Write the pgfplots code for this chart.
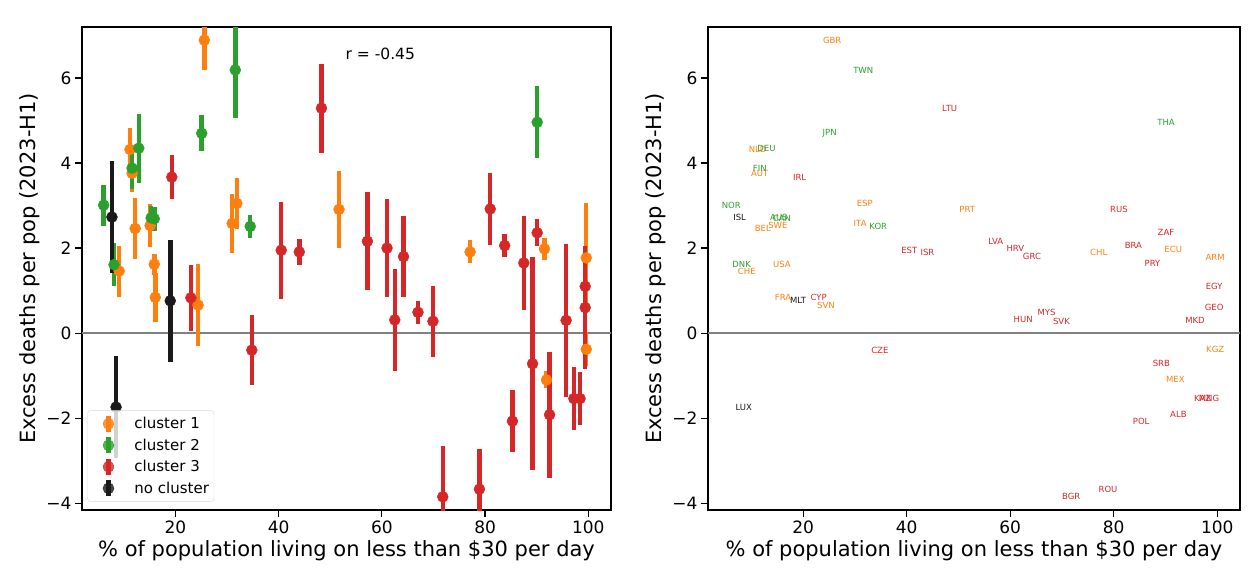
\documentclass[border=0pt]{standalone}
\usepackage{fontspec}
\setmainfont{DejaVu Sans}
\usepackage{pgfplots}
\usepackage{pgfplotstable}
\pgfplotsset{compat=1.18}
\definecolor{c1}{HTML}{FF7F0E}
\definecolor{c2}{HTML}{2CA02C}
\definecolor{c3}{HTML}{D62728}
\definecolor{c0}{HTML}{1A1A1A}

\pgfplotstableread{
x y e lab
25.6 6.89 0.70 GBR
11.2 4.32 0.50 NLD
11.6 3.76 0.45 AUT
12.2 2.46 0.72 BEL
15.1 2.53 0.50 SWE
31.9 3.05 0.60 ESP
31.0 2.58 0.70 ITA
9.1 1.46 0.60 CHE
15.9 1.62 0.25 USA
16.1 0.84 0.57 FRA
24.4 0.66 0.96 SVN
51.7 2.91 0.90 PRT
77.1 1.91 0.27 CHL
91.5 1.98 0.25 ECU
99.6 1.77 1.30 ARM
99.6 -0.38 0.40 KGZ
91.9 -1.10 0.20 MEX
}\cone

\pgfplotstableread{
x y e lab
31.6 6.19 1.13 TWN
25.1 4.70 0.42 JPN
12.9 4.35 0.81 DEU
11.6 3.88 0.50 FIN
6.1 3.01 0.48 NOR
15.3 2.71 0.28 AUS
15.9 2.69 0.28 CAN
34.5 2.51 0.28 KOR
8.1 1.61 0.50 DNK
90.1 4.96 0.85 THA
}\ctwo

\pgfplotstableread{
x y e lab
19.3 3.67 0.51 IRL
23.0 0.83 0.77 CYP
34.8 -0.40 0.82 CZE
48.3 5.29 1.05 LTU
40.5 1.95 1.14 EST
44.0 1.91 0.30 ISR
57.2 2.16 1.15 LVA
61.0 2.00 1.15 HRV
64.2 1.80 0.96 GRC
62.5 0.31 1.21 HUN
67.0 0.49 0.27 MYS
69.9 0.28 0.83 SVK
71.8 -3.85 1.20 BGR
78.9 -3.67 0.95 ROU
81.0 2.92 0.85 RUS
83.8 2.06 0.28 BRA
90.1 2.36 0.32 ZAF
87.5 1.65 1.10 PRY
99.4 1.10 0.95 EGY
99.4 0.60 1.45 GEO
95.7 0.30 1.80 MKD
89.2 -0.72 2.50 SRB
97.2 -1.54 0.74 KAZ
98.4 -1.54 0.62 MNG
92.5 -1.92 1.48 ALB
85.3 -2.07 0.73 POL
}\cthree

\pgfplotstableread{
x y e lab
7.7 2.73 1.32 ISL
19.0 0.76 1.43 MLT
8.5 -1.74 1.20 LUX
}\cnone

\pgfplotsset{
 myaxis/.style={
  scale only axis, width=#1, height=483pt,
  ymin=-4.16, ymax=7.2,
  xtick={20,40,60,80,100}, xticklabels={20,40,60,80,100},
  ytick={-4,-2,0,2,4,6}, yticklabels={−4,−2,0,2,4,6},
  tick align=outside, xtick pos=bottom, ytick pos=left,
  major tick length=7pt,
  tick style={black, line width=1.2pt},
  axis line style={line width=1.3pt, black},
  tick label style={font=\fontsize{17}{20}\selectfont},
  label style={font=\fontsize{21}{25}\selectfont},
  xlabel={\% of population living on less than \$30 per day},
  ylabel={Excess deaths per pop (2023-H1)},
 },
 errplot/.style={only marks, mark=*, mark size=5.5pt, color=#1,
   mark options={draw=#1, fill=#1},
   error bars/y dir=both, error bars/y explicit, error bars/error mark=none,
   error bars/error bar style={line width=4.5pt, #1}},
 labplot/.style={only marks, mark=*, mark size=0pt, mark options={draw=none, fill=none},
   nodes near coords, point meta=explicit symbolic, nodes near coords align=center,
   every node near coord/.append style={text=#1, font=\fontsize{8.5}{10}\selectfont, inner sep=0pt}},
 errleg/.style={legend image code/.code={%
    \path[draw=none, fill=none] (0pt,-8pt) rectangle (42pt,8pt);
    \draw[##1, line width=4.5pt] (18pt,-8pt)--(18pt,8pt);
    \fill[##1] (18pt,0pt) circle (5.5pt);}},
}

\begin{document}
\begin{tikzpicture}
\useasboundingbox (0,0) rectangle (1256pt,573pt);
\begin{axis}[myaxis=529pt, at={(82pt,63pt)}, anchor=south west,
  xmin=1.9, xmax=104.4,
  legend style={at={(0.01,0.017)}, anchor=south west, font=\fontsize{15}{18}\selectfont,
    draw=black!15, fill=white, fill opacity=0.8, text opacity=1, rounded corners=3pt,
    row sep=1pt, inner xsep=3pt, inner ysep=3pt},
  legend cell align=left]
\addlegendimage{errleg, color=c1}
\addlegendentry{cluster 1}
\addlegendimage{errleg, color=c2}
\addlegendentry{cluster 2}
\addlegendimage{errleg, color=c3}
\addlegendentry{cluster 3}
\addlegendimage{errleg, color=c0}
\addlegendentry{no cluster}
\addplot[gray, line width=1.3pt, forget plot] coordinates {(0,0) (110,0)};
\addplot[errplot=c1, forget plot] table[x=x, y=y, y error=e] {\cone};
\addplot[errplot=c2, forget plot] table[x=x, y=y, y error=e] {\ctwo};
\addplot[errplot=c3, forget plot] table[x=x, y=y, y error=e] {\cthree};
\addplot[errplot=c0, forget plot] table[x=x, y=y, y error=e] {\cnone};
\node[font=\fontsize{15.5}{18}\selectfont] at (axis cs:59.7,6.57) {r = -0.45};
\node[anchor=south west, font=\fontsize{17}{20}\selectfont, inner sep=0pt] at (rel axis cs:0,1) [yshift=5pt] {1e−4};
\end{axis}

\begin{axis}[myaxis=532pt, at={(708pt,63pt)}, anchor=south west,
  xmin=1.6, xmax=104.4]
\addplot[gray, line width=1.3pt, forget plot] coordinates {(0,0) (110,0)};
\addplot[labplot=c1] table[x=x, y=y, meta=lab] {\cone};
\addplot[labplot=c2] table[x=x, y=y, meta=lab] {\ctwo};
\addplot[labplot=c3] table[x=x, y=y, meta=lab] {\cthree};
\addplot[labplot=c0] table[x=x, y=y, meta=lab] {\cnone};
\node[anchor=south west, font=\fontsize{17}{20}\selectfont, inner sep=0pt] at (rel axis cs:0,1) [yshift=5pt] {1e−4};
\end{axis}
\end{tikzpicture}
\end{document}
